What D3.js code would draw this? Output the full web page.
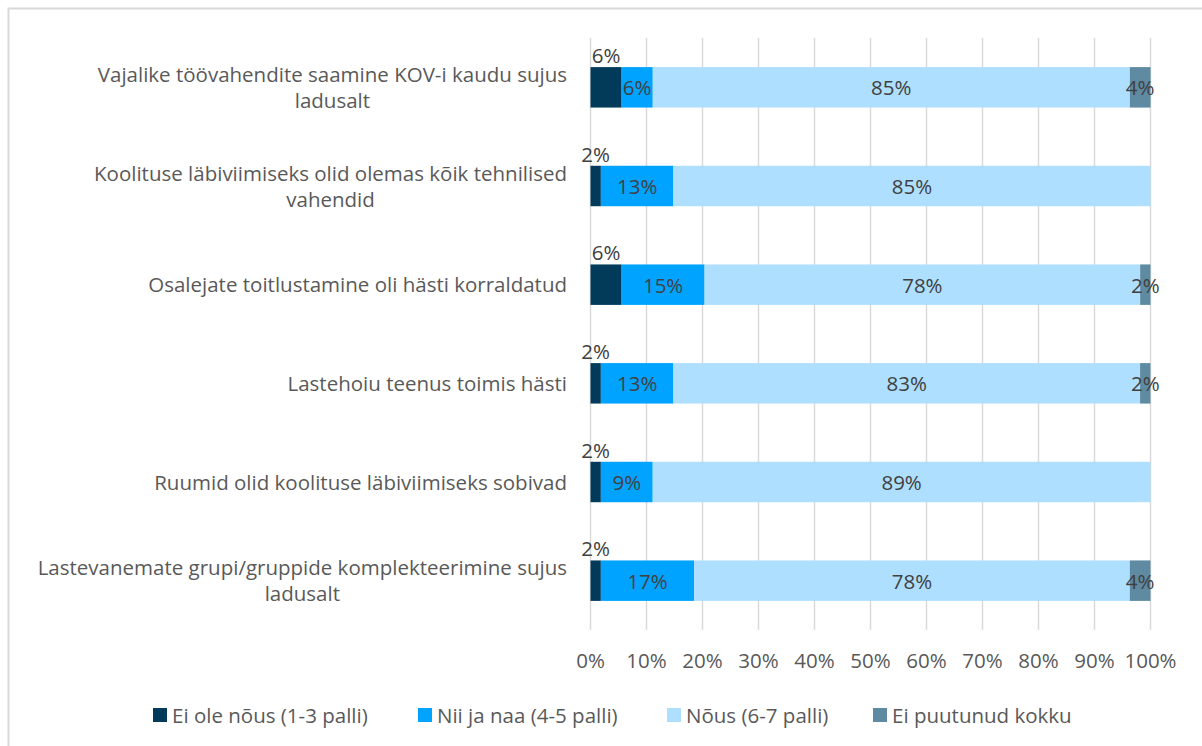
<!DOCTYPE html>
<html><head><meta charset="utf-8">
<script src="https://cdn.jsdelivr.net/npm/d3@7"></script>
<style>body{margin:0;background:#fff}svg{display:block}text{font-family:"Open Sans",sans-serif}</style>
</head><body>
<script>
const categories = [
  ["Vajalike töövahendite saamine KOV-i kaudu sujus","ladusalt"],
  ["Koolituse läbiviimiseks olid olemas kõik tehnilised","vahendid"],
  ["Osalejate toitlustamine oli hästi korraldatud"],
  ["Lastehoiu teenus toimis hästi"],
  ["Ruumid olid koolituse läbiviimiseks sobivad"],
  ["Lastevanemate grupi/gruppide komplekteerimine sujus","ladusalt"]
];
const seriesNames = ["Ei ole nõus (1-3 palli)","Nii ja naa (4-5 palli)","Nõus (6-7 palli)","Ei puutunud kokku"];
const eiOle   = [5.56, 1.85, 5.56, 1.85, 1.85, 1.85];
const niiJaNaa= [5.56, 12.96, 14.81, 12.96, 9.26, 16.67];
const nous    = [85.19, 85.19, 77.78, 83.33, 88.89, 77.78];
const eiPuut  = [3.70, 0, 1.85, 1.85, 0, 3.70];
const ticks = [0,10,20,30,40,50,60,70,80,90,100];
const colors = ["#023a5a","#00a3ff","#aedfff","#5e8aa2"];

const W=1202,H=746,FS=20.5;
const svg=d3.select("body").append("svg").attr("width",W).attr("height",H);
svg.append("rect").attr("x",8.5).attr("y",8.5).attr("width",W).attr("height",H).attr("fill","none").attr("stroke","#d9d9d9").attr("stroke-width",2);

const x=d3.scaleLinear().domain([0,100]).range([590.5,1150.5]);
const y=d3.scaleBand().domain(d3.range(categories.length)).range([38,630]).paddingInner(0.59).paddingOuter(0.295);

svg.append("g").selectAll("line").data(ticks).join("line")
  .attr("x1",d=>x(d)).attr("x2",d=>x(d)).attr("y1",38).attr("y2",630)
  .attr("stroke","#d9d9d9").attr("stroke-width",1.5);

const series=[eiOle,niiJaNaa,nous,eiPuut];
const rows=categories.map((c,i)=>{let s=0;return series.map((arr,k)=>{const v=arr[i];const r={i,k,x0:s,x1:s+v,v};s+=v;return r;});});
const segs=rows.flat().filter(d=>d.v>0);

svg.append("g").selectAll("rect").data(segs).join("rect")
  .attr("x",d=>x(d.x0)).attr("width",d=>x(d.x1)-x(d.x0))
  .attr("y",d=>y(d.i)).attr("height",y.bandwidth())
  .attr("fill",d=>colors[d.k]);

svg.append("g").selectAll("text").data(segs).join("text")
  .attr("x",d=>(x(d.x0)+x(d.x1))/2)
  .attr("y",d=>d.k===0? y(d.i)-4 : y(d.i)+y.bandwidth()/2+8)
  .attr("text-anchor","middle").attr("font-size",FS).attr("fill","#404040")
  .text(d=>Math.round(d.v)+"%");

const cl=svg.append("g");
categories.forEach((lines,i)=>{
  const cy=y(i)+y.bandwidth()/2;
  const n=lines.length;
  const t=cl.append("text").attr("font-size",FS).attr("fill","#595959");
  if(n===1){
    t.attr("text-anchor","end").attr("x",567).attr("y",cy+7.5).text(lines[0]);
  } else {
    t.attr("text-anchor","end").attr("x",567).attr("y",cy-13+7.5).text(lines[0]);
    const w=t.node().getComputedTextLength();
    const cx=567-w/2;
    t.attr("text-anchor","middle").attr("x",cx);
    cl.append("text").attr("font-size",FS).attr("fill","#595959").attr("text-anchor","middle")
      .attr("x",cx).attr("y",cy+13+7.5).text(lines[1]);
  }
});

svg.append("g").selectAll("text").data(ticks).join("text")
  .attr("x",d=>x(d)).attr("y",668).attr("text-anchor","middle").attr("font-size",FS).attr("fill","#595959")
  .text(d=>d+"%");

const lx=[153,418,667,873];
const lg=svg.append("g").selectAll("g").data(seriesNames).join("g").attr("transform",(d,i)=>`translate(${lx[i]},708)`);
lg.append("rect").attr("width",14).attr("height",14).attr("fill",(d,i)=>colors[i]);
lg.append("text").attr("x",19).attr("y",14.5).attr("font-size",FS).attr("fill","#595959").text(d=>d);
</script>
</body></html>
